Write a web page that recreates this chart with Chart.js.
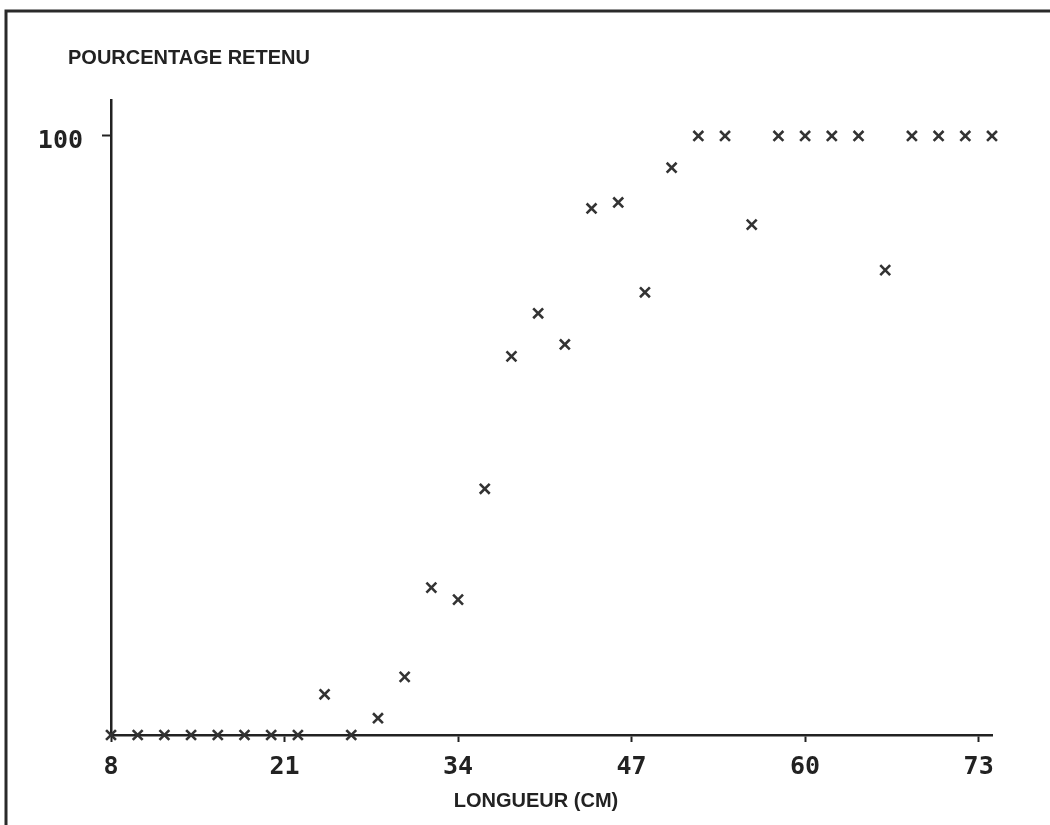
<!DOCTYPE html>
<html>
<head>
<meta charset="utf-8">
<script src="https://cdn.jsdelivr.net/npm/chart.js@4/dist/chart.umd.min.js"></script>
<style>
  html, body { margin: 0; padding: 0; background: #ffffff; }
  #c { display: block; }
</style>
</head>
<body>
<canvas id="c" width="1050" height="825"></canvas>
<script>
// ---- Data ----
const lengths = [8, 10, 12, 14, 16, 18, 20, 22, 24, 26, 28, 30, 32, 34, 36, 38, 40, 42, 44, 46, 48, 50, 52, 54, 56, 58, 60, 62, 64, 66, 68, 70, 72, 74];
const retained = [0, 0, 0, 0, 0, 0, 0, 0, 6.8, 0, 2.8, 9.7, 24.6, 22.6, 41.1, 63.2, 70.4, 65.2, 87.9, 88.9, 73.9, 94.7, 100, 100, 85.2, 100, 100, 100, 100, 77.6, 100, 100, 100, 100];
const xTickValues = [8, 21, 34, 47, 60, 73];
const yTickValues = [100];
const yAxisTitle = 'POURCENTAGE RETENU';
const xAxisTitle = 'LONGUEUR (CM)';

const ink = '#222222';
const tickFont = { family: '"DejaVu Sans Mono", monospace', weight: 'bold', size: 25 };

const framePlugin = {
  id: 'frameAndTitles',
  afterDraw(chart) {
    const ctx = chart.ctx;
    ctx.save();
    // scanned page frame (top and left edges)
    ctx.strokeStyle = '#2a2a2a';
    ctx.lineWidth = 3;
    ctx.beginPath();
    ctx.moveTo(1050, 11);
    ctx.lineTo(6, 11);
    ctx.lineTo(6, 825);
    ctx.stroke();
    // axis titles
    ctx.fillStyle = ink;
    ctx.font = 'bold 20px "Liberation Sans", Arial, sans-serif';
    ctx.textBaseline = 'middle';
    ctx.textAlign = 'left';
    ctx.fillText(yAxisTitle, 68, 58);
    ctx.textAlign = 'center';
    ctx.fillText(xAxisTitle, 536, 801);
    ctx.restore();
  }
};

new Chart(document.getElementById('c'), {
  type: 'scatter',
  data: {
    datasets: [{
      data: lengths.map((x, i) => ({ x: x, y: retained[i] })),
      pointStyle: 'crossRot',
      pointRadius: 7,
      pointBorderWidth: 2.6,
      borderColor: '#333333',
      backgroundColor: '#333333',
      showLine: false,
      clip: false
    }]
  },
  options: {
    responsive: false,
    devicePixelRatio: 1,
    animation: false,
    layout: { padding: { left: 0, right: 58, top: 100, bottom: 0 } },
    plugins: { legend: { display: false }, tooltip: { enabled: false }, title: { display: false } },
    scales: {
      x: {
        type: 'linear',
        min: 8,
        max: 74,
        afterBuildTicks: (s) => { s.ticks = xTickValues.map(v => ({ value: v })); },
        afterFit: (s) => { s.height = 90; },
        grid: { display: true, drawOnChartArea: false, drawTicks: true, tickLength: 7, tickWidth: 2, tickColor: ink },
        border: { display: true, color: ink, width: 2.5 },
        ticks: { color: ink, font: tickFont, padding: 10, autoSkip: false, maxRotation: 0 }
      },
      y: {
        type: 'linear',
        min: 0,
        max: 106,
        afterBuildTicks: (s) => { s.ticks = yTickValues.map(v => ({ value: v })); },
        afterFit: (s) => { s.width = 111; },
        grid: { display: true, drawOnChartArea: false, drawTicks: true, tickLength: 9, tickWidth: 2, tickColor: ink },
        border: { display: true, color: ink, width: 2.5 },
        ticks: { color: ink, font: tickFont, padding: 19, labelOffset: 6 }
      }
    }
  },
  plugins: [framePlugin]
});
</script>
</body>
</html>
